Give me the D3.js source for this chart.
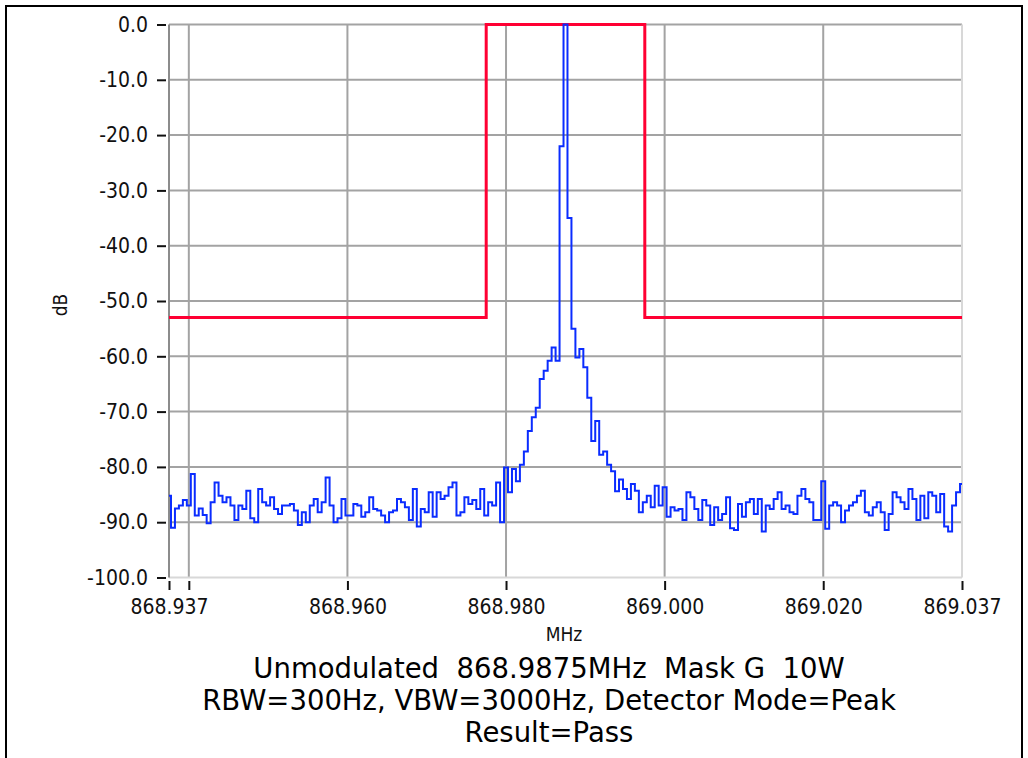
<!DOCTYPE html>
<html>
<head>
<meta charset="utf-8">
<script src="https://cdn.jsdelivr.net/npm/d3@7"></script>
<style>
  html, body { margin: 0; padding: 0; background: #fff; }
  svg { display: block; }
  text.title { white-space: pre; }
</style>
</head>
<body>
<svg id="chart" width="1028" height="758"></svg>
<script>
// ---------- data ----------
const startFreqMHz = 868.9375;
const stepMHz = 0.0005;            // 0.5 kHz per trace point
const traceDb = [
  -85.2,-91.0,-87.5,-87.0,-86.0,-87.0,-81.3,-88.8,-87.5,-88.7,
  -90.2,-86.4,-82.8,-85.2,-86.4,-85.5,-87.0,-89.6,-87.0,-87.6,
  -84.3,-89.3,-90.0,-84.0,-86.4,-87.0,-85.5,-87.6,-88.5,-87.0,
  -87.0,-86.7,-87.9,-90.5,-88.2,-90.0,-87.0,-85.8,-88.2,-86.4,
  -81.9,-87.0,-90.0,-89.3,-85.8,
  -88.8,-88.8,-86.7,-87.0,-89.0,-88.2,-85.5,-87.6,-87.9,-88.8,
  -90.0,-88.2,-87.9,-85.8,-86.4,-87.3,-89.6,-84.0,-90.8,-87.6,
  -88.2,-84.6,-89.0,-84.6,-85.8,-85.2,-83.7,-82.8,-88.8,-88.2,
  -85.5,-86.7,-86.0,-87.6,-84.0,-88.8,-86.4,-87.0,-82.8,-90.0,
  -80.1,-84.6,-80.4,
  -82.6,-79.6,-77.2,-73.5,-71.0,-69.3,-64.1,-62.6,-60.8,-58.4,
  -60.8,-22.0,0.0,-35.0,-55.0,-60.2,-58.7,-62.0,-67.5,-75.3,
  -71.7,-77.8,-77.2,-79.6,-80.8,-84.4,-82.3,
  -84.0,-85.8,-83.1,-84.3,-88.2,-86.4,-85.2,-87.3,-83.4,-87.0,
  -83.7,-89.0,-87.3,-87.9,-87.6,-89.6,-84.6,-85.5,-87.6,-89.6,
  -86.0,-87.0,-90.5,-87.3,-89.6,-88.5,-85.5,-91.1,-91.4,-86.7,
  -89.0,-86.4,-85.8,-88.5,-85.8,-91.7,-87.0,-87.6,-85.8,-84.6,
  -87.6,-87.0,-88.2,
  -88.5,-85.2,-84.0,-85.8,-86.4,-89.6,-89.6,-82.6,-91.2,-87.0,
  -86.4,-87.0,-90.0,-87.9,-87.0,-86.4,-85.2,-84.3,-88.2,-88.8,
  -87.3,-86.4,-88.2,-91.4,-88.5,-84.6,-85.5,-86.4,-87.6,-84.0,
  -85.8,-89.6,-85.2,-89.3,-84.6,-85.2,-88.2,-84.9,-90.8,-91.7,
  -87.0,-84.6,-83.1
];

const maskFreqMHz = [868.9375, 868.9775, 868.9775, 868.9975, 868.9975, 869.0375];
const maskDb      = [-53, -53, 0, 0, -53, -53];

const xTickValues = [868.9375, 868.940, 868.960, 868.980, 869.000, 869.020, 869.0375];
const xTickLabels = ["868.937", "", "868.960", "868.980", "869.000", "869.020", "869.037"];
const xGridValues = [868.940, 868.960, 868.980, 869.000, 869.020];
const yTickValues = [0, -10, -20, -30, -40, -50, -60, -70, -80, -90, -100];
const yTickLabels = ["0.0", "-10.0", "-20.0", "-30.0", "-40.0", "-50.0", "-60.0", "-70.0", "-80.0", "-90.0", "-100.0"];

const xAxisTitle = "MHz";
const yAxisTitle = "dB";
const titleLines = [
  "Unmodulated  868.9875MHz  Mask G  10W",
  "RBW=300Hz, VBW=3000Hz, Detector Mode=Peak",
  "Result=Pass"
];

// ---------- layout ----------
const svg = d3.select("#chart");
const L = 169, R = 962, T = 24.5, B = 577.5;
const tickFont = "'DejaVu Sans Condensed', 'DejaVu Sans', sans-serif";
const titleFont = "'DejaVu Sans', sans-serif";

const x = d3.scaleLinear().domain([startFreqMHz, startFreqMHz + stepMHz * (traceDb.length - 1)]).range([L, R]);
const y = d3.scaleLinear().domain([-100, 0]).range([B, T]);

// outer frame
svg.append("path")
  .attr("d", "M6,758 V6 H1022 V758")
  .attr("fill", "none").attr("stroke", "#000").attr("stroke-width", 2);

// grid
const grid = svg.append("g");
grid.selectAll("line.h").data(yTickValues.filter(v => v > -100)).enter().append("line")
  .attr("x1", L).attr("x2", R).attr("y1", d => y(d)).attr("y2", d => y(d))
  .attr("stroke", "#a3a3a3").attr("stroke-width", 2);
grid.selectAll("line.v").data(xGridValues).enter().append("line")
  .attr("y1", T).attr("y2", B).attr("x1", d => x(d)).attr("x2", d => x(d))
  .attr("stroke", "#a3a3a3").attr("stroke-width", 2);

// plot frame
svg.append("line").attr("x1", L).attr("x2", R).attr("y1", B).attr("y2", B)
  .attr("stroke", "#d8d8d8").attr("stroke-width", 2);
svg.append("line").attr("x1", R).attr("x2", R).attr("y1", T).attr("y2", B)
  .attr("stroke", "#d8d8d8").attr("stroke-width", 2);
svg.append("line").attr("x1", L).attr("x2", L).attr("y1", T).attr("y2", B)
  .attr("stroke", "#8c8c8c").attr("stroke-width", 2);

// mask
const maskLine = d3.line().x((d, i) => x(maskFreqMHz[i])).y(d => y(d));
svg.append("path").datum(maskDb)
  .attr("d", maskLine)
  .attr("fill", "none").attr("stroke", "#ff0033").attr("stroke-width", 3);

// trace
const traceLine = d3.line()
  .x((d, i) => x(startFreqMHz + i * stepMHz))
  .y(d => y(d))
  .curve(d3.curveStep);
svg.append("path").datum(traceDb)
  .attr("d", traceLine)
  .attr("fill", "none").attr("stroke", "#0a2cff").attr("stroke-width", 2)
  .attr("stroke-linejoin", "miter");

// y axis
const yAxis = svg.append("g").attr("transform", `translate(166,0)`)
  .call(d3.axisLeft(y).tickValues(yTickValues).tickFormat((d, i) => yTickLabels[i]).tickSize(9).tickPadding(9));
yAxis.select(".domain").remove();
yAxis.selectAll(".tick line").attr("stroke", "#111").attr("stroke-width", 2);
yAxis.selectAll(".tick text").attr("font-family", tickFont).attr("font-size", 21).attr("fill", "#111");

// x axis
const xAxis = svg.append("g").attr("transform", `translate(0,581)`)
  .call(d3.axisBottom(x).tickValues(xTickValues).tickFormat((d, i) => xTickLabels[i]).tickSize(9).tickPadding(9));
xAxis.select(".domain").remove();
xAxis.selectAll(".tick line").attr("stroke", "#111").attr("stroke-width", 2);
xAxis.selectAll(".tick text").attr("font-family", tickFont).attr("font-size", 21).attr("fill", "#111");

// axis titles
svg.append("text").attr("x", 564).attr("y", 641).attr("text-anchor", "middle")
  .attr("font-family", tickFont).attr("font-size", 19).attr("fill", "#111").text(xAxisTitle);
svg.append("text").attr("transform", "translate(67,305) rotate(-90)").attr("text-anchor", "middle")
  .attr("font-family", tickFont).attr("font-size", 19).attr("fill", "#111").text(yAxisTitle);

// titles
const titleBaselines = [678, 710, 742];
svg.selectAll("text.title").data(titleLines).enter().append("text")
  .attr("class", "title")
  .attr("x", 549).attr("y", (d, i) => titleBaselines[i]).attr("text-anchor", "middle")
  .attr("font-family", titleFont).attr("font-size", 27.5).attr("fill", "#000")
  .text(d => d);
</script>
</body>
</html>
